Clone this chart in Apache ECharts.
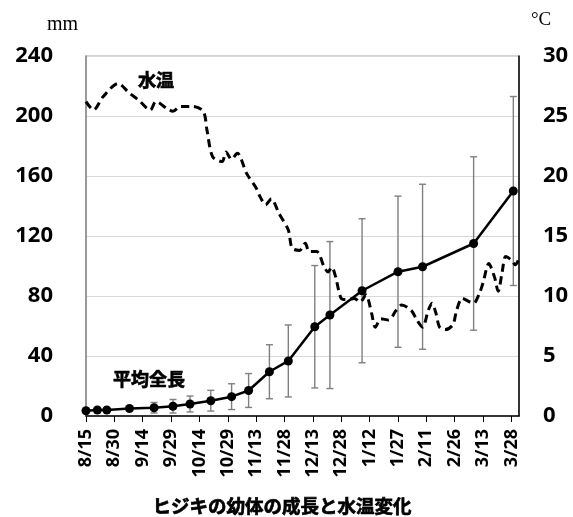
<!DOCTYPE html>
<html>
<head>
<meta charset="utf-8">
<script src="https://cdn.jsdelivr.net/npm/echarts@6/dist/echarts.min.js"></script>
<style>
  html, body { margin: 0; padding: 0; background: #fff; }
  #chart { width: 573px; height: 517px; }
</style>
</head>
<body>
<div id="chart"></div>
<script>
// Survey dates (M/D, Aug–Dec of the first year, Jan–Apr of the next)
const growthDates = ['8/15', '8/21', '8/26', '9/7', '9/20', '9/30', '10/9', '10/20', '10/31', '11/9',
  '11/20', '11/30', '12/14', '12/22', '1/8', '1/27', '2/9', '3/8', '3/29'];
// Mean total length (mm) and standard deviation (mm)
const growthMean = [3.5, 4, 4, 5, 5.5, 6.5, 8, 10.2, 12.9, 17, 29.5, 36.7, 59.5, 67.3, 83.5, 96.2, 99.5, 115, 150];
const growthSd = [0.5, 0.5, 0.5, 1, 3.5, 4.5, 5.3, 6.9, 8.6, 11.3, 18, 24, 40.8, 49, 48, 50.4, 55, 57.8, 63];

// Water temperature (°C)
const tempDates = ['8/15', '8/19', '8/24', '9/1', '9/7', '9/12', '9/18', '9/21', '9/27', '9/30',
  '10/4', '10/10', '10/16', '10/18', '10/21', '10/26', '10/28', '10/31', '11/3', '11/8',
  '11/13', '11/15', '11/18', '11/21', '11/25', '11/30', '12/2', '12/6', '12/9', '12/11',
  '12/15', '12/19', '12/21', '12/23', '12/25', '12/28', '12/31', '1/4', '1/7', '1/10',
  '1/13', '1/15', '1/18', '1/22', '1/26', '1/29', '2/3', '2/6', '2/9', '2/12',
  '2/14', '2/16', '2/18', '2/21', '2/25', '2/27', '3/2', '3/6', '3/8', '3/11',
  '3/13', '3/16', '3/19', '3/21', '3/23', '3/25', '3/28', '3/30', '4/1'];
const tempValues = [26.2, 25.5, 26.6, 27.7, 26.9, 26.3, 25.5, 26.2, 25.6, 25.4,
  25.8, 25.8, 25.4, 23.8, 21.6, 21.2, 22.0, 21.4, 21.9, 20.2,
  19.0, 18.3, 17.6, 18.1, 16.9, 15.5, 14.0, 13.8, 14.4, 13.7,
  13.7, 12.4, 12.0, 12.4, 11.6, 9.8, 9.7, 9.8, 9.5, 10.1,
  8.6, 7.4, 8.1, 8.0, 8.8, 9.25, 8.8, 8.0, 7.4, 8.8,
  9.4, 8.6, 7.4, 7.2, 7.6, 8.8, 9.8, 9.5, 9.4, 10.2,
  11.1, 12.7, 11.6, 10.4, 11.9, 13.3, 13.0, 12.6, 13.1];

// Axis ranges
const xStart = '8/15';
const xEnd = '4/1';
const xStepDays = 15;
const lengthTicks = [0, 40, 80, 120, 160, 200, 240];
const tempTicks = [0, 5, 10, 15, 20, 25, 30];

const DAY = 86400000;
const BASE = Date.UTC(2018, 7, 15);
function dayOffset(md) {
  const [m, d] = md.split('/').map(Number);
  const y = m >= 8 ? 2018 : 2019;
  return Math.round((Date.UTC(y, m - 1, d) - BASE) / DAY);
}
function dayLabel(v) {
  const dt = new Date(BASE + v * DAY);
  return (dt.getUTCMonth() + 1) + '/' + dt.getUTCDate();
}

const xMin = dayOffset(xStart);
const xMax = dayOffset(xEnd);
const xTickValues = [];
for (let v = xMin; v <= xMax; v += xStepDays) xTickValues.push(v);

const growthData = growthDates.map((d, i) => [dayOffset(d), growthMean[i]]);
const errorData = growthDates.map((d, i) => [dayOffset(d), growthMean[i] - growthSd[i], growthMean[i] + growthSd[i]]);
const tempData = tempDates.map((d, i) => [dayOffset(d), tempValues[i]]);

const numFont = '"Open Sans", "Liberation Sans", sans-serif';
const jpFont = '"Noto Sans CJK JP", sans-serif';
const jpBold = { fontFamily: jpFont, fontWeight: 'bold', fill: '#000', stroke: '#000', lineWidth: 0.7, align: 'center', verticalAlign: 'middle' };

const chart = echarts.init(document.getElementById('chart'), null, { renderer: 'canvas' });
chart.setOption({
  animation: false,
  backgroundColor: '#fff',
  grid: {
    left: 86, right: 54, top: 56, bottom: 101,
    show: true, borderColor: '#a6a6a6', borderWidth: 1
  },
  xAxis: {
    type: 'value',
    min: xMin, max: xMax, interval: xStepDays,
    axisLine: { show: true, lineStyle: { color: '#000', width: 1.5 } },
    axisTick: { show: true, length: 6, lineStyle: { color: '#000', width: 1 }, customValues: xTickValues },
    splitLine: { show: false },
    axisLabel: {
      rotate: 90, margin: 13,
      customValues: xTickValues,
      fontFamily: numFont, fontWeight: 'bold', fontSize: 18, color: '#000',
      formatter: v => (v - xMin) % xStepDays === 0 ? dayLabel(v) : ''
    }
  },
  yAxis: [
    {
      type: 'value', position: 'left',
      min: lengthTicks[0], max: lengthTicks[lengthTicks.length - 1], interval: lengthTicks[1] - lengthTicks[0],
      axisLine: { show: true, lineStyle: { color: '#868686', width: 1.5 } },
      axisTick: { show: false },
      splitLine: { show: true, lineStyle: { color: '#d9d9d9', width: 1.2 } },
      axisLabel: { margin: 33, fontFamily: numFont, fontWeight: 'bold', fontSize: 22, color: '#000' }
    },
    {
      type: 'value', position: 'right',
      min: tempTicks[0], max: tempTicks[tempTicks.length - 1], interval: tempTicks[1] - tempTicks[0],
      axisLine: { show: true, lineStyle: { color: '#000', width: 1.5 } },
      axisTick: { show: false },
      splitLine: { show: false },
      axisLabel: { margin: 24, fontFamily: numFont, fontWeight: 'bold', fontSize: 22, color: '#000' }
    }
  ],
  series: [
    {
      name: '水温',
      type: 'line',
      yAxisIndex: 1,
      data: tempData,
      smooth: 0.3,
      showSymbol: false,
      symbol: 'none',
      lineStyle: { color: '#000', width: 3, type: [8, 5], cap: 'butt' },
      z: 3
    },
    {
      name: 'SD',
      type: 'custom',
      yAxisIndex: 0,
      data: errorData,
      encode: { x: 0, y: [1, 2] },
      silent: true,
      z: 2,
      renderItem: (params, api) => {
        const x = api.value(0);
        const lo = api.coord([x, api.value(1)]);
        const hi = api.coord([x, api.value(2)]);
        const w = 3.5;
        const style = { stroke: '#7f7f7f', lineWidth: 1.4, fill: null };
        return {
          type: 'group',
          children: [
            { type: 'line', shape: { x1: lo[0], y1: lo[1], x2: hi[0], y2: hi[1] }, style },
            { type: 'line', shape: { x1: hi[0] - w, y1: hi[1], x2: hi[0] + w, y2: hi[1] }, style },
            { type: 'line', shape: { x1: lo[0] - w, y1: lo[1], x2: lo[0] + w, y2: lo[1] }, style }
          ]
        };
      }
    },
    {
      name: '平均全長',
      type: 'line',
      yAxisIndex: 0,
      data: growthData,
      symbol: 'circle',
      symbolSize: 9,
      itemStyle: { color: '#000' },
      lineStyle: { color: '#000', width: 2.5 },
      z: 4
    }
  ],
  graphic: [
    { type: 'text', left: 47, top: 15, style: { text: 'mm', fontFamily: '"Liberation Serif", serif', fontSize: 20, fill: '#000' } },
    { type: 'text', left: 531, top: 11, style: { text: '°C', fontFamily: '"Liberation Serif", serif', fontSize: 19, fill: '#000' } },
    { type: 'text', x: 156, y: 80, style: Object.assign({ text: '水温', fontSize: 18 }, jpBold) },
    { type: 'text', x: 149, y: 379, style: Object.assign({ text: '平均全長', fontSize: 18 }, jpBold) },
    { type: 'text', x: 282, y: 506, style: Object.assign({ text: 'ヒジキの幼体の成長と水温変化', fontSize: 18.5 }, jpBold) }
  ]
});
</script>
</body>
</html>
